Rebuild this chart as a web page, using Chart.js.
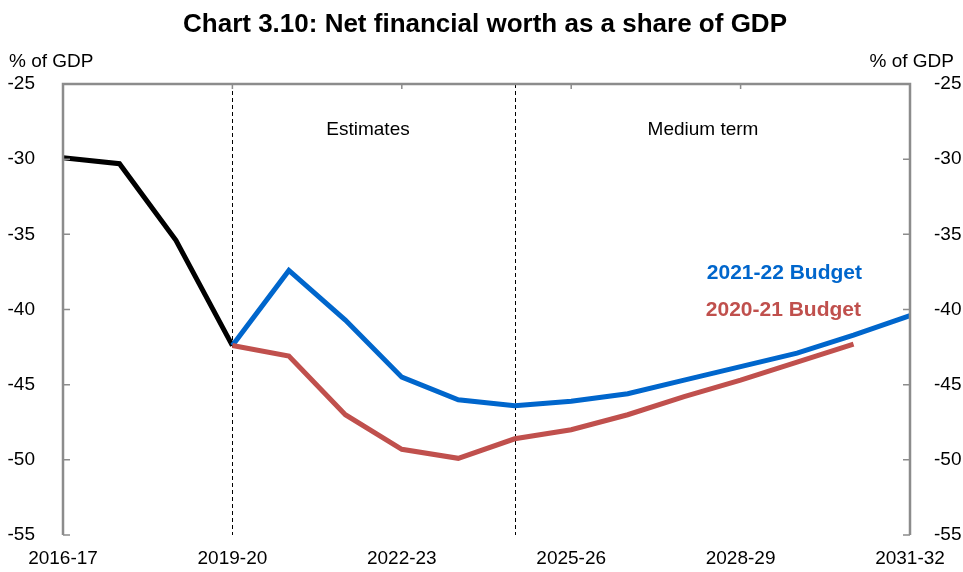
<!DOCTYPE html>
<html lang="en">
<head>
<meta charset="UTF-8">
<title>Net financial worth as a share of GDP</title>
<style>
    body { margin: 0; background: #fff; }
    canvas { display: block; }
</style>
<script src="https://cdn.jsdelivr.net/npm/chart.js"></script>
</head>
<body>

<canvas id="nfwChart" width="963" height="572"></canvas>

<script>
const years = ["2016-17", "2017-18", "2018-19", "2019-20", "2020-21", "2021-22", "2022-23", "2023-24",
    "2024-25", "2025-26", "2026-27", "2027-28", "2028-29", "2029-30", "2030-31", "2031-32"];
const actuals = [-29.9, -30.3, -35.4, -42.4, null, null, null, null, null, null, null, null, null, null, null, null];
const budget2122 = [null, null, null, -42.4, -37.4, -40.7, -44.5, -46.0, -46.4, -46.1, -45.6, -44.7, -43.8, -42.9, -41.7, -40.4];
const budget2021 = [null, null, null, -42.4, -43.1, -47.0, -49.3, -49.9, -48.6, -48.0, -47.0, -45.8, -44.7, -43.5, -42.3, null];
const yTicks = [-25, -30, -35, -40, -45, -50, -55];
const dividers = ["2019-20", "2024-25"];

const FONT = "'Liberation Sans', Arial, sans-serif";
const AXIS_GREY = "#8c8c8c";
const BLUE = "#0066cc";
const RED = "#c0504d";

// axis frame, inward tick marks, period dividers and text labels
const decorations = {
    id: "decorations",
    beforeDatasetsDraw(chart) {
        const { ctx, chartArea: a, scales } = chart;
        ctx.save();
        ctx.strokeStyle = "#000";
        ctx.lineWidth = 1;
        ctx.setLineDash([4, 3]);
        dividers.forEach(d => {
            const x = Math.round(scales.x.getPixelForValue(years.indexOf(d))) + 0.5;
            ctx.beginPath();
            ctx.moveTo(x, a.top);
            ctx.lineTo(x, a.bottom);
            ctx.stroke();
        });
        ctx.restore();
    },
    afterDraw(chart) {
        const { ctx, chartArea: a, scales } = chart;
        ctx.save();
        ctx.strokeStyle = AXIS_GREY;
        ctx.lineWidth = 2.5;
        ctx.beginPath();
        ctx.moveTo(a.left, a.bottom);
        ctx.lineTo(a.left, a.top);
        ctx.lineTo(a.right, a.top);
        ctx.lineTo(a.right, a.bottom);
        ctx.stroke();

        ctx.lineWidth = 1.5;
        yTicks.forEach(v => {
            const y = scales.y.getPixelForValue(v);
            ctx.beginPath();
            ctx.moveTo(a.left, y);
            ctx.lineTo(a.left + 7, y);
            ctx.moveTo(a.right, y);
            ctx.lineTo(a.right - 7, y);
            ctx.stroke();
        });
        years.forEach((yr, i) => {
            if (i % 3 !== 0 || i === 0 || i === years.length - 1) return;
            const x = scales.x.getPixelForValue(i);
            ctx.beginPath();
            ctx.moveTo(x, a.top);
            ctx.lineTo(x, a.top + 5);
            ctx.stroke();
        });

        ctx.fillStyle = "#000";
        ctx.textBaseline = "middle";
        ctx.font = "bold 26px " + FONT;
        ctx.textAlign = "center";
        ctx.fillText("Chart 3.10: Net financial worth as a share of GDP", 485, 25);

        ctx.font = "19px " + FONT;
        ctx.textAlign = "left";
        ctx.fillText("% of GDP", 9, 62);
        ctx.textAlign = "right";
        ctx.fillText("% of GDP", 954, 62);

        ctx.textAlign = "center";
        ctx.fillText("Estimates", 368, 130);
        ctx.fillText("Medium term", 703, 130);

        ctx.font = "bold 21px " + FONT;
        ctx.textAlign = "right";
        ctx.fillStyle = BLUE;
        ctx.fillText("2021-22 Budget", 862, 273);
        ctx.fillStyle = RED;
        ctx.fillText("2020-21 Budget", 861, 310);
        ctx.restore();
    }
};

const lineStyle = { borderWidth: 5, pointRadius: 0, tension: 0, fill: false, spanGaps: false };

new Chart(document.getElementById("nfwChart"), {
    type: "line",
    data: {
        labels: years,
        datasets: [
            { label: "2020-21 Budget", data: budget2021, borderColor: RED, ...lineStyle },
            { label: "2021-22 Budget", data: budget2122, borderColor: BLUE, ...lineStyle },
            { label: "Actual", data: actuals, borderColor: "#000", ...lineStyle }
        ]
    },
    options: {
        responsive: false,
        animation: false,
        layout: { padding: { top: 84, left: 0, right: 0, bottom: 0 } },
        plugins: {
            legend: { display: false },
            tooltip: { enabled: false }
        },
        scales: {
            x: {
                type: "category",
                offset: false,
                grid: { display: false },
                border: { display: false },
                afterFit: s => { s.height = 37; },
                ticks: {
                    autoSkip: false,
                    maxRotation: 0,
                    padding: 4,
                    color: "#000",
                    font: { family: FONT, size: 19 },
                    callback: (v, i) => (i % 3 === 0 ? years[i] : "")
                }
            },
            y: {
                position: "left",
                min: -55,
                max: -25,
                grid: { display: false },
                border: { display: false },
                afterFit: s => { s.width = 63; },
                ticks: {
                    stepSize: 5,
                    padding: 20,
                    color: "#000",
                    font: { family: FONT, size: 19 }
                }
            },
            y2: {
                position: "right",
                min: -55,
                max: -25,
                grid: { display: false },
                border: { display: false },
                afterFit: s => { s.width = 53; },
                ticks: {
                    stepSize: 5,
                    padding: 16,
                    color: "#000",
                    font: { family: FONT, size: 19 }
                }
            }
        }
    },
    plugins: [decorations]
});
</script>

</body>
</html>
